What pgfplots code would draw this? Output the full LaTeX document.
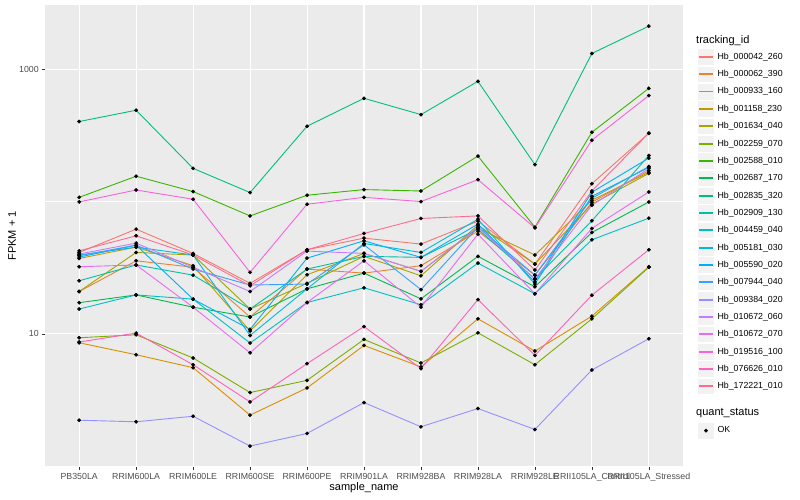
\documentclass[border=0pt]{standalone}
\usepackage{fontspec}
\setmainfont{Liberation Sans}
\usepackage{pgfplots}
\usepackage{pgfplotstable}
\pgfplotsset{compat=1.18}

% ggplot hue palette, 20 levels
\definecolor{c1}{HTML}{F8766D}
\definecolor{c2}{HTML}{EA8331}
\definecolor{c3}{HTML}{D89000}
\definecolor{c4}{HTML}{C09B00}
\definecolor{c5}{HTML}{A3A500}
\definecolor{c6}{HTML}{7CAE00}
\definecolor{c7}{HTML}{39B600}
\definecolor{c8}{HTML}{00BB4E}
\definecolor{c9}{HTML}{00BF7D}
\definecolor{c10}{HTML}{00C1A3}
\definecolor{c11}{HTML}{00BFC4}
\definecolor{c12}{HTML}{00BAE0}
\definecolor{c13}{HTML}{00B0F6}
\definecolor{c14}{HTML}{35A2FF}
\definecolor{c15}{HTML}{9590FF}
\definecolor{c16}{HTML}{C77CFF}
\definecolor{c17}{HTML}{E76BF3}
\definecolor{c18}{HTML}{FA62DB}
\definecolor{c19}{HTML}{FF62BC}
\definecolor{c20}{HTML}{FF6C91}
\definecolor{panel}{HTML}{EBEBEB}
\definecolor{gtext}{HTML}{4D4D4D}
\definecolor{gtick}{HTML}{333333}
\definecolor{keybg}{HTML}{F2F2F2}

% FPKM + 1, one row per sample, one column per tracking_id
\pgfplotstableread{
x  s1    s2    s3    s4    s5    s6    s7    s8    s9    s10   s11   s12   s13   s14   s15   s16   s17   s18   s19   s20
0  41.3  20.9  8.55  37.2  20.9  9.33  108   17.2  405   25.2  15.4  39.5  38.1  39.0  2.216 40.2  32.2  99.7  8.66  42.5
1  62.0  35.7  6.94  45.3  41.3  9.83  156   19.7  493   33.2  19.7  45.3  46.9  46.9  2.156 48.6  33.2  122.7 10.12 55.2
2  40.6  31.9  5.54  32.8  39.5  6.56  119.4 15.9  179   27.8  18.3  39.5  18.3  30.9  2.375 31.9  15.9  104.4 5.83  39.5
3  24.1  13.4  2.42  10.5  15.4  3.59  78.1  13.4  117.3 15.4  8.51  9.71  10.8  23.4  1.411 20.9  7.18  29.2  3.05  23.1
4  43.3  30.9  3.89  28.0  24.1  4.44  112   21.9  373   30.9  17.25 21.9  37.4  23.8  1.759 42.3  17.25 95.7  5.94  43.3
5  53.0  28.8  8.16  40.6  38.6  9.06  123.6 28.8  607   38.6  22.3  48.3  50.6  47.2  3.015 40.6  35.7  108   11.35 57.5
6  47.8  32.8  5.61  29.7  27.5  6.01  120.6 18.4  457   37.9  16.6  41.3  37.9  21.6  1.976 29.7  15.9  100.3 5.44  74.7
7  71.3  59.9  12.98 63.1  66.5  10.17 221.6 38.6  816   62.0  34.3  73.8  67.7  64.2  2.716 64.2  56.8  147   18.15 78.1
8  33.7  27.8  7.40  39.5  33.7  5.83  64.2  22.7  191   26.0  20.1  23.8  24.7  27.8  1.886 26.0  20.1  63.4  6.86  30.4
9  137   99.1  13.6  102.6 95.8  12.98 336   58.5  1327  71.7  51.5  110   118   106.2 5.32  94.1  62.8  292.6 19.6  120.7
10 330   172   32.2  167   164   31.9  722   99.6  2137  224   75.1  182   214   185   9.17  178   118.6 636.6 43.3  330.5
}\fpkm

\pgfplotsset{
  ggkey/.style={
    legend image code/.code={
      \draw[draw=white, fill=keybg, line width=0.5bp] (0bp,-8.42bp) rectangle (17.08bp,8.42bp);
      \draw[line width=1.9bp] (1.7bp,0bp) -- (15.4bp,0bp);
    }
  },
  gglegend/.style={
    draw=none, fill=none, inner sep=0pt, row sep=0pt, column sep=2.8bp,
    nodes={inner sep=0pt, font=\fontsize{8.8bp}{10bp}\selectfont, text=black},
  },
}

\begin{document}
\begin{tikzpicture}
\useasboundingbox (0,0) rectangle (800bp,500bp);
\begin{axis}[
  at={(45bp,33bp)}, anchor=south west,
  width=638bp, height=462bp, scale only axis,
  ymode=log,
  xmin=-0.6, xmax=10.6, ymin=0.98, ymax=3090,
  axis background/.style={fill=panel},
  axis line style={draw=none},
  grid=both,
  major grid style={white, line width=1.07bp},
  minor grid style={white, line width=0.53bp},
  xtick={0,...,10},
  xticklabels={PB350LA,RRIM600LA,RRIM600LE,RRIM600SE,RRIM600PE,RRIM901LA,RRIM928BA,RRIM928LA,RRIM928LE,RRII105LA\_Control,RRII105LA\_Stressed},
  ytick={10,1000}, yticklabels={10,1000},
  minor ytick={1,100},
  minor tick length=0pt,
  xtick pos=bottom, ytick pos=left,
  tick align=outside, major tick length=2.75bp,
  tick style={gtick, line width=0.5bp},
  ticklabel style={font=\fontsize{8.8bp}{10bp}\selectfont, text=gtext},
  xlabel={sample\_name}, ylabel={FPKM + 1},
  label style={font=\fontsize{11bp}{13bp}\selectfont},
  xlabel style={at={(axis description cs:0.5,-0.0455)}, anchor=center},
  ylabel style={at={(axis description cs:-0.0517,0.5)}, anchor=center},
  ggkey,
  legend cell align=left,
  legend style={gglegend, at={(1,1)}, anchor=north west, xshift=14bp, yshift=-43bp},
  legend entries={Hb\_000042\_260,Hb\_000062\_390,Hb\_000933\_160,Hb\_001158\_230,Hb\_001634\_040,Hb\_002259\_070,Hb\_002588\_010,Hb\_002687\_170,Hb\_002835\_320,Hb\_002909\_130,Hb\_004459\_040,Hb\_005181\_030,Hb\_005590\_020,Hb\_007944\_040,Hb\_009384\_020,Hb\_010672\_060,Hb\_010672\_070,Hb\_019516\_100,Hb\_076626\_010,Hb\_172221\_010},
]
\pgfplotsinvokeforeach{1,...,20}{
  \addplot[c#1, line width=0.9bp] table[x=x, y=s#1] {\fpkm};
}
\pgfplotsinvokeforeach{1,...,20}{
  \addplot[only marks, mark=*, mark size=1.7bp, black, forget plot] table[x=x, y=s#1] {\fpkm};
}
\end{axis}

\node[anchor=west, font=\fontsize{11bp}{13bp}\selectfont, inner sep=0pt] at (696bp,459.3bp) {tracking\_id};
\node[anchor=west, font=\fontsize{11bp}{13bp}\selectfont, inner sep=0pt] at (696bp,86.5bp) {quant\_status};

\begin{axis}[
  hide axis, at={(697bp,60.5bp)}, anchor=south west,
  width=10bp, height=10bp, scale only axis,
  xmin=0, xmax=1, ymin=0, ymax=1,
  legend cell align=left,
  legend style={gglegend, at={(0,0)}, anchor=south west},
  legend image code/.code={
    \draw[draw=white, fill=keybg, line width=0.5bp] (0bp,-8.42bp) rectangle (17.08bp,8.42bp);
    \fill[black] (8.54bp,0bp) circle (1.7bp);
  },
]
\addlegendimage{black}
\addlegendentry{OK}
\end{axis}
\end{tikzpicture}
\end{document}
